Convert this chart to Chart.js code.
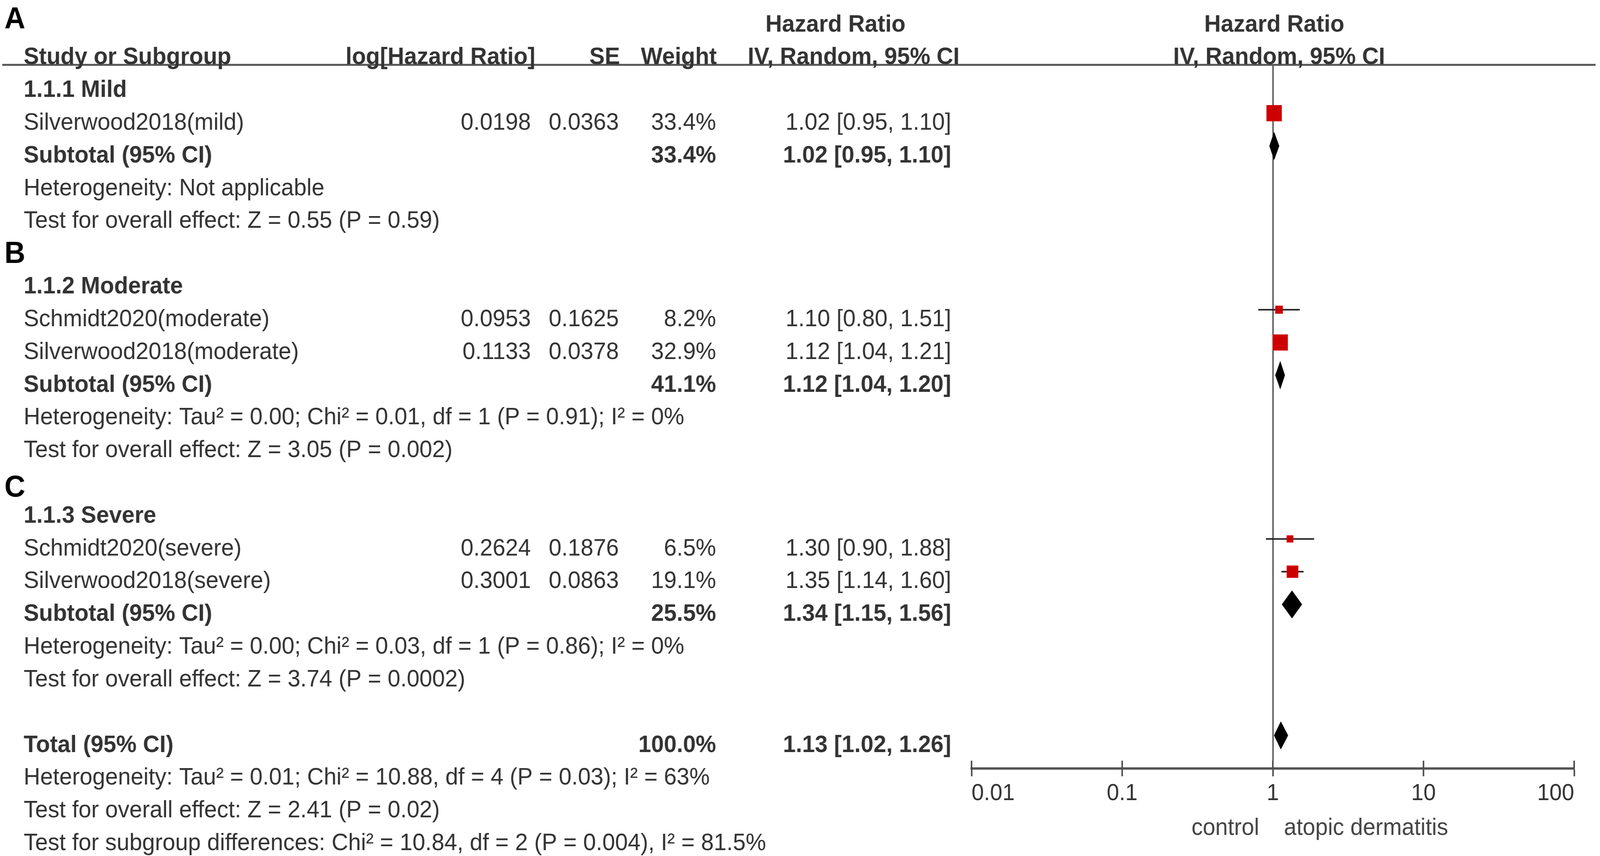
<!DOCTYPE html>
<html>
<head>
<meta charset="utf-8">
<script src="https://cdn.jsdelivr.net/npm/chart.js@4.4.1/dist/chart.umd.min.js"></script>
<style>
  html, body { margin: 0; padding: 0; background: #fff; overflow: hidden; }
  canvas { display: block; }
</style>
</head>
<body>
<canvas id="forest" width="4328" height="2191" style="width:100vw;height:100vh"></canvas>
<script>
// --- data ---
const groupNames = ['1.1.1 Mild', '1.1.2 Moderate', '1.1.3 Severe'];
const groupRows = [0, 6, 13];

const studyNames = ['Silverwood2018(mild)', 'Schmidt2020(moderate)', 'Silverwood2018(moderate)', 'Schmidt2020(severe)', 'Silverwood2018(severe)'];
const studyRows = [1, 7, 8, 14, 15];
const logHR = [0.0198, 0.0953, 0.1133, 0.2624, 0.3001];
const seValues = [0.0363, 0.1625, 0.0378, 0.1876, 0.0863];
const studyWeights = [33.4, 8.2, 32.9, 6.5, 19.1];
const studyHR = [1.02, 1.10, 1.12, 1.30, 1.35];
const studyLow = [0.95, 0.80, 1.04, 0.90, 1.14];
const studyHigh = [1.10, 1.51, 1.21, 1.88, 1.60];

const subtotalRows = [2, 9, 16];
const subtotalWeights = [33.4, 41.1, 25.5];
const subtotalHR = [1.02, 1.12, 1.34];
const subtotalLow = [0.95, 1.04, 1.15];
const subtotalHigh = [1.10, 1.20, 1.56];
const heterogeneity = [
  'Heterogeneity: Not applicable',
  'Heterogeneity: Tau\u00b2 = 0.00; Chi\u00b2 = 0.01, df = 1 (P = 0.91); I\u00b2 = 0%',
  'Heterogeneity: Tau\u00b2 = 0.00; Chi\u00b2 = 0.03, df = 1 (P = 0.86); I\u00b2 = 0%'
];
const overallTests = [
  'Test for overall effect: Z = 0.55 (P = 0.59)',
  'Test for overall effect: Z = 3.05 (P = 0.002)',
  'Test for overall effect: Z = 3.74 (P = 0.0002)'
];

const totalRow = 20;
const totalWeight = 100.0;
const totalHR = 1.13;
const totalLow = 1.02;
const totalHigh = 1.26;
const totalNotes = [
  'Heterogeneity: Tau\u00b2 = 0.01; Chi\u00b2 = 10.88, df = 4 (P = 0.03); I\u00b2 = 63%',
  'Test for overall effect: Z = 2.41 (P = 0.02)',
  'Test for subgroup differences: Chi\u00b2 = 10.84, df = 2 (P = 0.004), I\u00b2 = 81.5%'
];

const tickValues = [0.01, 0.1, 1, 10, 100];
const tickLabels = ['0.01', '0.1', '1', '10', '100'];
const favoursLabels = ['control', 'atopic dermatitis'];
const panelLetters = ['A', 'B', 'C'];
const panelRows = [-2.16, 5, 12.13];

// --- layout / style ---
const FONT = "'Liberation Sans', Arial, sans-serif";
const TXT = 62;
const TEXT_COLOR = '#333';
const ROW_MIN = -0.477, ROW_MAX = 21.01;
const TEXT_SHIFT = 20;          // text sits a little lower than the marks
const SQUARE_K = 7.2;           // square side = k * sqrt(weight)
const DIAMOND_H = 0.42;         // half height of a diamond, in rows
const RED = '#cc0000';

const col = {
  label: 64, logHR: 1436, se: 1674, weight: 1937, ci: 2573,
  hrHead: 2260, ivHead: 2309, plotHrHead: 3447, plotIvHead: 3460
};

const fmtCI = (e, l, h) => `${e.toFixed(2)} [${l.toFixed(2)}, ${h.toFixed(2)}]`;

function diamond(est, low, high, row) {
  return {
    type: 'line',
    data: [
      { x: low, y: row }, { x: est, y: row - DIAMOND_H }, { x: high, y: row },
      { x: est, y: row + DIAMOND_H }, { x: low, y: row }
    ],
    borderColor: '#000', backgroundColor: '#000', borderWidth: 1,
    fill: 'shape', pointRadius: 0, tension: 0, order: 2
  };
}

const squareSet = {
  type: 'scatter',
  data: studyHR.map((v, i) => ({ x: v, y: studyRows[i] })),
  pointStyle: 'rect',
  pointRadius: c => SQUARE_K * Math.sqrt(studyWeights[c.dataIndex]) / Math.SQRT2,
  pointHoverRadius: c => SQUARE_K * Math.sqrt(studyWeights[c.dataIndex]) / Math.SQRT2,
  backgroundColor: RED, borderWidth: 0, order: 0
};

const ciSets = studyRows.map((r, i) => ({
  type: 'line',
  data: [{ x: studyLow[i], y: r }, { x: studyHigh[i], y: r }],
  borderColor: '#222', borderWidth: 4, pointRadius: 0, fill: false, order: 1
}));

const diamondSets = subtotalHR.map((v, i) => diamond(v, subtotalLow[i], subtotalHigh[i], subtotalRows[i]));
diamondSets.push(diamond(totalHR, totalLow, totalHigh, totalRow));

function put(ctx, text, x, yMid, align, bold, size, color) {
  ctx.font = `${bold ? 'bold ' : ''}${size}px ${FONT}`;
  ctx.fillStyle = color || TEXT_COLOR;
  ctx.textAlign = align;
  ctx.textBaseline = 'alphabetic';
  ctx.fillText(text, x, yMid + size * 0.358);
}

const tablePlugin = {
  id: 'table',
  afterDraw(chart) {
    const { ctx, chartArea, scales: { x, y } } = chart;
    const rowY = r => y.getPixelForValue(r) + TEXT_SHIFT;
    ctx.save();

    // header rule
    ctx.strokeStyle = '#555';
    ctx.lineWidth = 5;
    ctx.beginPath();
    ctx.moveTo(6, chartArea.top);
    ctx.lineTo(4316, chartArea.top);
    ctx.stroke();

    // tick marks also reach above the axis line
    ctx.strokeStyle = '#444';
    ctx.lineWidth = 4;
    tickValues.forEach(v => {
      const px = x.getPixelForValue(v);
      ctx.beginPath();
      ctx.moveTo(px, chartArea.bottom - 20);
      ctx.lineTo(px, chartArea.bottom);
      ctx.stroke();
    });

    // column headers
    put(ctx, 'Hazard Ratio', col.hrHead, rowY(-2), 'center', true, TXT);
    put(ctx, 'Hazard Ratio', col.plotHrHead, rowY(-2), 'center', true, TXT);
    put(ctx, 'Study or Subgroup', col.label, rowY(-1), 'left', true, TXT);
    put(ctx, 'log[Hazard Ratio]', col.logHR + 12, rowY(-1), 'right', true, TXT);
    put(ctx, 'SE', col.se + 3, rowY(-1), 'right', true, TXT);
    put(ctx, 'Weight', col.weight + 2, rowY(-1), 'right', true, TXT);
    put(ctx, 'IV, Random, 95% CI', col.ivHead, rowY(-1), 'center', true, TXT);
    put(ctx, 'IV, Random, 95% CI', col.plotIvHead, rowY(-1), 'center', true, TXT);

    // panel letters
    panelLetters.forEach((l, i) => put(ctx, l, 12, rowY(panelRows[i]), 'left', true, 78, '#000'));

    groupNames.forEach((g, i) => put(ctx, g, col.label, rowY(groupRows[i]), 'left', true, TXT));

    studyNames.forEach((s, i) => {
      const yy = rowY(studyRows[i]);
      put(ctx, s, col.label, yy, 'left', false, TXT);
      put(ctx, logHR[i].toFixed(4), col.logHR, yy, 'right', false, TXT);
      put(ctx, seValues[i].toFixed(4), col.se, yy, 'right', false, TXT);
      put(ctx, studyWeights[i].toFixed(1) + '%', col.weight, yy, 'right', false, TXT);
      put(ctx, fmtCI(studyHR[i], studyLow[i], studyHigh[i]), col.ci, yy, 'right', false, TXT);
    });

    subtotalRows.forEach((r, i) => {
      put(ctx, 'Subtotal (95% CI)', col.label, rowY(r), 'left', true, TXT);
      put(ctx, subtotalWeights[i].toFixed(1) + '%', col.weight, rowY(r), 'right', true, TXT);
      put(ctx, fmtCI(subtotalHR[i], subtotalLow[i], subtotalHigh[i]), col.ci, rowY(r), 'right', true, TXT);
      put(ctx, heterogeneity[i], col.label, rowY(r + 1), 'left', false, TXT);
      put(ctx, overallTests[i], col.label, rowY(r + 2), 'left', false, TXT);
    });

    put(ctx, 'Total (95% CI)', col.label, rowY(totalRow), 'left', true, TXT);
    put(ctx, totalWeight.toFixed(1) + '%', col.weight, rowY(totalRow), 'right', true, TXT);
    put(ctx, fmtCI(totalHR, totalLow, totalHigh), col.ci, rowY(totalRow), 'right', true, TXT);
    totalNotes.forEach((t, i) => put(ctx, t, col.label, rowY(totalRow + 1 + i), 'left', false, TXT));

    // favours labels under the axis
    const one = x.getPixelForValue(1);
    const fy = chartArea.bottom + 148;
    put(ctx, favoursLabels[0], one - 37, fy, 'right', false, 61, '#444');
    put(ctx, favoursLabels[1], one + 30, fy, 'left', false, 61, '#444');

    ctx.restore();
  }
};

new Chart(document.getElementById('forest'), {
  type: 'scatter',
  data: { datasets: [squareSet, ...ciSets, ...diamondSets] },
  options: {
    responsive: false,
    devicePixelRatio: 1,
    animation: false,
    events: [],
    layout: { padding: { left: 2628, right: 70, top: 166, bottom: 0 } },
    plugins: { legend: { display: false }, tooltip: { enabled: false } },
    scales: {
      x: {
        type: 'logarithmic',
        min: 0.01, max: 100,
        afterBuildTicks: s => { s.ticks = tickValues.map(v => ({ value: v })); },
        afterFit: s => { s.height = 224; s.paddingLeft = 0; s.paddingRight = 0; },
        ticks: {
          align: 'inner', autoSkip: false, maxRotation: 0, padding: 8,
          color: TEXT_COLOR,
          font: { family: FONT, size: 60 },
          callback: (v, i) => tickLabels[i]
        },
        grid: {
          drawOnChartArea: true,
          color: c => (c.tick && c.tick.value === 1) ? '#333' : 'rgba(0,0,0,0)',
          lineWidth: 3,
          tickColor: '#444', tickLength: 20, tickWidth: 4
        },
        border: { display: true, color: '#555', width: 6 }
      },
      y: {
        type: 'linear', display: false, reverse: true,
        min: ROW_MIN, max: ROW_MAX
      }
    }
  },
  plugins: [tablePlugin]
});
</script>
</body>
</html>
